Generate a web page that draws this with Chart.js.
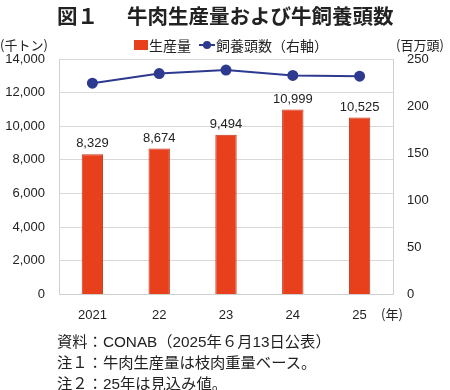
<!DOCTYPE html>
<html>
<head>
<meta charset="utf-8">
<script src="https://cdn.jsdelivr.net/npm/chart.js@4"></script>
<style>
  body { margin: 0; width: 450px; height: 390px; position: relative; background: #fff;
         font-family: "Liberation Sans", "Noto Sans CJK JP", sans-serif; color: #222; overflow: hidden; }
  #wrap { position: absolute; left: 0; top: 0; width: 450px; height: 390px; }
  .t { position: absolute; white-space: nowrap; }
  #title { left: 57px; top: 0px; font-size: 20.5px; font-weight: bold; font-family: "Noto Sans CJK JP", sans-serif; }
  #legend { left: 134px; top: 35px; font-size: 14px; font-family: "Noto Sans CJK JP", sans-serif; display: flex; align-items: center; }
  .unit { font-size: 13px; font-family: "Noto Sans CJK JP", sans-serif; }
  .note { left: 57px; font-size: 15.3px; font-family: "Liberation Sans", "Noto Sans CJK JP", sans-serif; }
</style>
</head>
<body>
<div id="wrap"><canvas id="c" width="450" height="390"></canvas></div>
<div class="t" id="title">図１<span style="display:inline-block;width:29px"></span>牛肉生産量および牛飼養頭数</div>
<div class="t" id="legend">
  <span style="display:inline-block;width:14px;height:10px;background:#e8401c;margin-right:1px"></span>生産量
  <span style="display:inline-block;width:16px;height:10px;position:relative;margin-left:8px;margin-right:1px">
    <span style="position:absolute;left:0;top:4px;width:16px;height:2px;background:#2e3a8f"></span>
    <span style="position:absolute;left:4px;top:1px;width:8px;height:8px;border-radius:50%;background:#2e3a8f"></span>
  </span>飼養頭数（右軸）
</div>
<div class="t unit" style="left:0;top:35px">(千トン)</div>
<div class="t unit" style="left:396px;top:35px">(百万頭)</div>
<div class="t unit" style="left:381px;top:304px">(年)</div>
<div class="t note" style="top:329px">資料：CONAB（2025年６月13日公表）</div>
<div class="t note" style="top:350px">注１：牛肉生産量は枝肉重量ベース。</div>
<div class="t note" style="top:371px">注２：25年は見込み値。</div>
<script>
const years = ["2021", "22", "23", "24", "25"];
const production = [8329, 8674, 9494, 10999, 10525];
const herd = [224.3, 234.5, 238.2, 232.6, 231.8];

// numbers above the bars
const valueLabels = {
  id: "valueLabels",
  afterDatasetsDraw(chart) {
    const ctx = chart.ctx;
    const meta = chart.getDatasetMeta(1);
    ctx.save();
    ctx.font = "13px 'Liberation Sans'";
    ctx.fillStyle = "#222";
    ctx.textAlign = "center";
    ctx.textBaseline = "bottom";
    meta.data.forEach((bar, i) => {
      ctx.fillText(production[i].toLocaleString("en-US"), bar.x, bar.y - 4);
    });
    ctx.restore();
  }
};

new Chart(document.getElementById("c"), {
  data: {
    labels: years,
    datasets: [
      {
        type: "line",
        label: "飼養頭数（右軸）",
        data: herd,
        yAxisID: "y2",
        borderColor: "#2e3a8f",
        backgroundColor: "#2e3a8f",
        borderWidth: 2,
        pointRadius: 4.5,
        order: 0
      },
      {
        type: "bar",
        label: "生産量",
        data: production,
        yAxisID: "y",
        backgroundColor: "#e8401c",
        borderColor: "#c23418",
        borderWidth: 1,
        barPercentage: 0.32,
        categoryPercentage: 1,
        order: 1
      }
    ]
  },
  options: {
    responsive: false,
    animation: false,
    layout: { padding: { top: 59, bottom: 62, left: 0, right: 0 } },
    plugins: { legend: { display: false }, tooltip: { enabled: false } },
    scales: {
      x: {
        grid: { display: false },
        border: { color: "#d0d0d0" },
        ticks: { color: "#222", font: { size: 13, family: "Liberation Sans" }, padding: 5, maxRotation: 0 }
      },
      y: {
        position: "left",
        min: 0, max: 14000,
        ticks: { stepSize: 2000, color: "#222", padding: 14, font: { size: 13, family: "Liberation Sans" },
                 callback: v => v.toLocaleString("en-US") },
        grid: { color: "#d9d9d9", drawTicks: false },
        border: { color: "#d0d0d0" },
        afterFit: s => { s.width = 59; }
      },
      y2: {
        position: "right",
        min: 0, max: 250,
        ticks: { stepSize: 50, color: "#222", padding: 14, font: { size: 13, family: "Liberation Sans" } },
        grid: { display: false, drawTicks: false },
        border: { color: "#d0d0d0" },
        afterFit: s => { s.width = 57; }
      }
    }
  },
  plugins: [valueLabels]
});
</script>
</body>
</html>
